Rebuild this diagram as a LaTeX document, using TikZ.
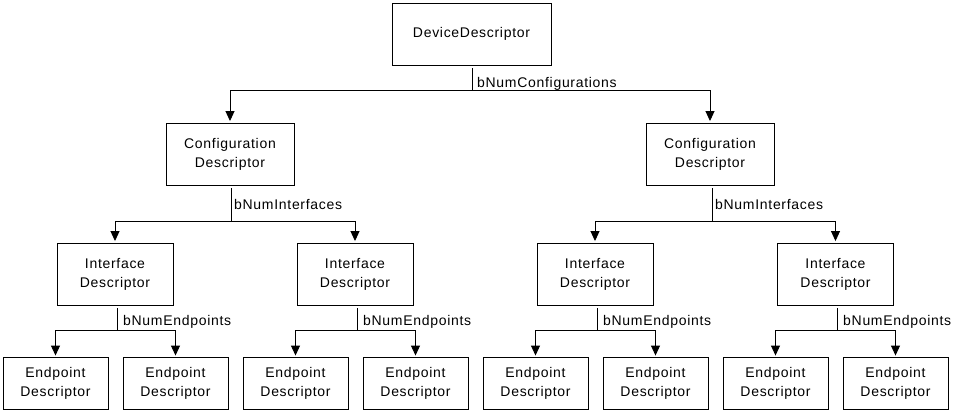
\documentclass[tikz,border=0pt]{standalone}
\usepackage{fontspec}
\setmainfont[LetterSpace=5]{Liberation Sans}
\usetikzlibrary{arrows.meta}
\begin{document}
\begin{tikzpicture}[x=1pt,y=-1pt,
  box/.style={draw, line width=0.9pt, align=center, inner sep=0pt, font=\fontsize{14}{19}\selectfont},
  lbl/.style={anchor=base west, inner sep=0pt, font=\fontsize{14}{16}\selectfont},
  conn/.style={line width=0.9pt},
  arr/.style={conn, -{Triangle[length=10pt,width=9pt]}, shorten >=1.5pt}]
\useasboundingbox (0,0) rectangle (959,412);
% boxes
\node[box, minimum width=159pt, minimum height=62pt] (dev) at (471.5,34) {DeviceDescriptor};
\node[box, minimum width=128pt, minimum height=62pt] (cfg1) at (230,154) {Configuration\\Descriptor};
\node[box, minimum width=128pt, minimum height=62pt] (cfg2) at (710,154) {Configuration\\Descriptor};
\foreach \i/\x in {1/115,2/355,3/595,4/835.5}
  \node[box, minimum width=116pt, minimum height=62pt] (if\i) at (\x,274) {Interface\\Descriptor};
\foreach \i in {1,...,8}
  \node[box, minimum width=105pt, minimum height=52pt] (ep\i) at ({55.5+120*(\i-1)},383.5) {Endpoint\\Descriptor};
% junctions
\coordinate (jd) at (472,90);
\coordinate (jc1) at (231,221);
\coordinate (jc2) at (712,221);
\foreach \i/\x in {1/117,2/357,3/597,4/837}
  \coordinate (ji\i) at (\x,330);
% device level
\draw[conn] (dev.south -| jd) ++(0,3) -- (jd);
\draw[arr] (jd) -| (cfg1);
\draw[arr] (jd) -| (cfg2);
\node[lbl] at ([xshift=5pt,yshift=2pt]jd) {bNumConfigurations};
% configuration level
\foreach \c/\a/\b in {1/1/2,2/3/4}{
  \draw[conn] (cfg\c.south -| jc\c) ++(0,3) -- (jc\c);
  \draw[arr] (jc\c) -| (if\a);
  \draw[arr] (jc\c) -| (if\b);
  \node[lbl] at ([xshift=3pt,yshift=12pt]jc\c) {bNumInterfaces};
}
% interface level
\foreach \i/\a/\b in {1/1/2,2/3/4,3/5/6,4/7/8}{
  \draw[conn] (if\i.south -| ji\i) ++(0,3) -- (ji\i);
  \draw[arr] (ji\i) -| (ep\a);
  \draw[arr] (ji\i) -| (ep\b);
  \node[lbl] at ([xshift=6pt,yshift=5pt]ji\i) {bNumEndpoints};
}
\end{tikzpicture}
\end{document}
